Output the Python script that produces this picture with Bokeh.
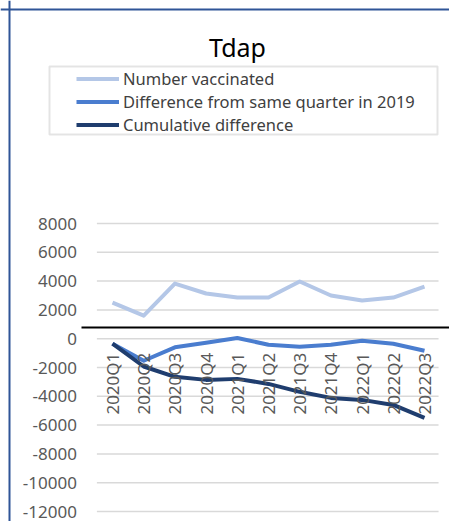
import numpy as np
from bokeh.plotting import figure
from bokeh.models import Range1d, Legend, LegendItem, Span, BoxAnnotation, Label
from bokeh.core.properties import value
from bokeh.embed import file_html
from bokeh.resources import INLINE

# ---------------- data ----------------
quarters = ["2020Q1", "2020Q2", "2020Q3", "2020Q4", "2021Q1", "2021Q2",
            "2021Q3", "2021Q4", "2022Q1", "2022Q2", "2022Q3"]
number_vaccinated = [2500, 1600, 3830, 3140, 2860, 2860, 3970, 3000, 2650, 2860, 3620]
difference_2019 = [-350, -1530, -600, -280, 50, -420, -560, -420, -140, -350, -840]
cumulative_difference = [-350, -1930, -2650, -2860, -2790, -3140, -3690, -4110, -4250, -4600, -5500]
y_ticks = [8000, 6000, 4000, 2000, 0, -2000, -4000, -6000, -8000, -10000, -12000]
y_tick_labels = [str(t) for t in y_ticks]
title_text = "Tdap"
series_names = ["Number vaccinated", "Difference from same quarter in 2019", "Cumulative difference"]
ref_line_value = 780

# ---------------- layout helpers ----------------
W, H = 449, 521
X0_PX, DX_PX = 112, 31.2      # first category position (px), spacing
Y0_PX, DY_PX = 338.2, 0.0144  # zero position (px), px per unit


def px2x(px):  # picture px -> data x
    return (px - X0_PX) / DX_PX


def px2y(py):  # picture px -> data y
    return (Y0_PX - py) / DY_PX


xs = list(range(len(quarters)))

p = figure(width=W, height=H, output_backend="svg", toolbar_location=None,
           x_range=Range1d(px2x(0), px2x(W)), y_range=Range1d(px2y(H), px2y(0)),
           x_axis_location=None, y_axis_location=None, min_border=0,
           background_fill_color="white", border_fill_color="white")
p.outline_line_color = None
p.grid.visible = False

FONT = "Noto Sans"

# grid lines
n = len(y_ticks)
p.segment(x0=[-0.5] * n, x1=[10.45] * n, y0=y_ticks, y1=y_ticks,
          line_color="#D9D9D9", line_width=1.5)

# series
r1 = p.line(xs, number_vaccinated, line_color="#B4C7E7", line_width=4, line_join="round")
r2 = p.line(xs, difference_2019, line_color="#4A7DCF", line_width=4, line_join="round")
r3 = p.line(xs, cumulative_difference, line_color="#1F3D6E", line_width=4, line_join="round")

# black reference line
p.segment(x0=[px2x(81)], x1=[px2x(W)], y0=[ref_line_value], y1=[ref_line_value],
          line_color="black", line_width=2)

# y tick labels
p.text(x=[-0.5] * n, y=y_ticks, text=y_tick_labels, x_offset=-20,
       text_align="right", text_baseline="middle",
       text_font=value(FONT), text_font_size="17px", text_color="#595959")

# x category labels (rotated)
p.text(x=xs, y=[0] * len(xs), text=quarters, y_offset=14, angle=np.pi / 2,
       text_align="right", text_baseline="middle",
       text_font=value(FONT), text_font_size="17px", text_color="#595959")

# title
p.add_layout(Label(x=px2x(237), y=px2y(46), text=title_text, text_align="center",
                   text_baseline="alphabetic", text_font=FONT, text_font_size="25px",
                   text_color="black"))

# legend frame
p.add_layout(BoxAnnotation(left=px2x(49), right=px2x(437), top=px2y(66), bottom=px2y(134),
                           fill_color=None, fill_alpha=0, line_color="#A6A6A6", line_width=2))

legend = Legend(items=[LegendItem(label=series_names[0], renderers=[r1]),
                       LegendItem(label=series_names[1], renderers=[r2]),
                       LegendItem(label=series_names[2], renderers=[r3])],
                location=(76, 385), orientation="vertical",
                glyph_width=43, glyph_height=21, label_height=21, spacing=-2,
                padding=0, margin=0, label_standoff=4,
                label_text_font=FONT, label_text_font_size="16.5px", label_text_color="#404040",
                border_line_alpha=0, background_fill_alpha=0)
p.add_layout(legend)

# outer border (top and left)
p.add_layout(Span(location=px2x(9), dimension="height", line_color="#2F5597", line_width=2))
p.add_layout(Span(location=px2y(9), dimension="width", line_color="#2F5597", line_width=2))

with open("out.html", "w", encoding="utf-8") as f:
    f.write(file_html(p, INLINE))
